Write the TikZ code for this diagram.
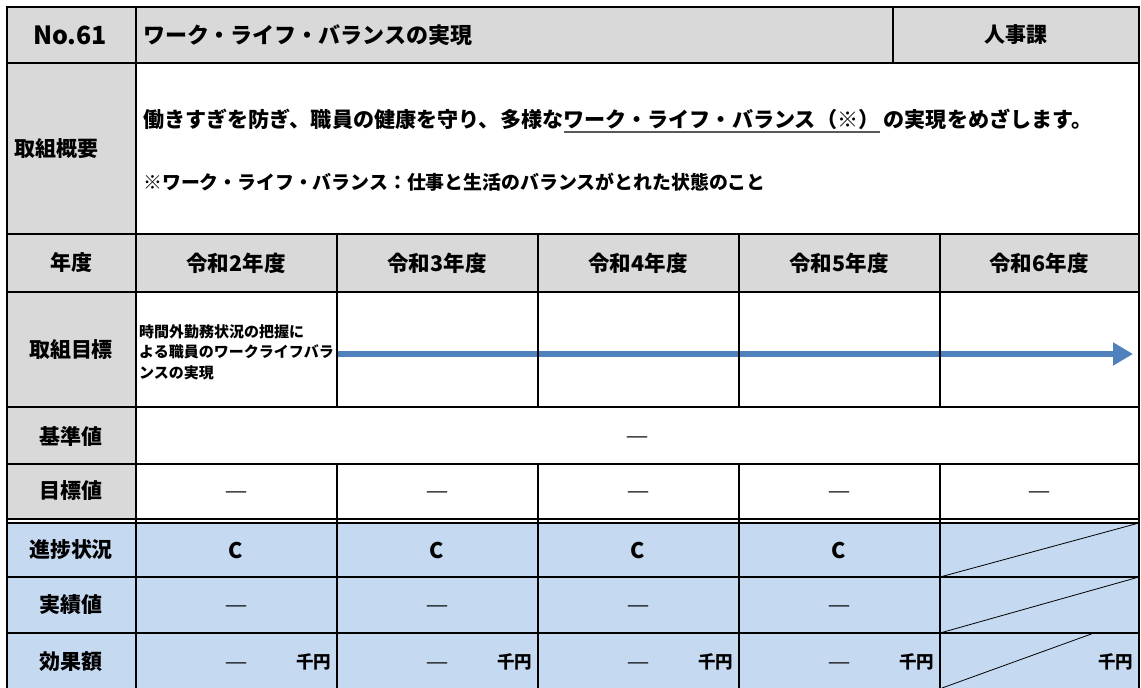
\documentclass[tikz,border=0pt]{standalone}
\usepackage{fontspec}
\setmainfont{Noto Sans CJK JP}
\usetikzlibrary{arrows.meta}
\definecolor{hdrgray}{HTML}{D9D9D9}
\definecolor{progblue}{HTML}{C5D9F1}
\definecolor{goalblue}{HTML}{4F81BD}
\definecolor{ulgray}{HTML}{595959}
\begin{document}
\begin{tikzpicture}[x=1pt,y=-1pt,
    rule/.style={line width=1.4pt},
    slash/.style={line width=0.8pt},
    lbl/.style={font=\bfseries\fontsize{21}{21}\selectfont},
    val/.style={font=\bfseries\fontsize{21.5}{21.5}\selectfont},
    bar/.style={font=\bfseries\fontsize{24}{24}\selectfont, yshift=-6pt},
    yen/.style={font=\bfseries\fontsize{17.5}{17.5}\selectfont, anchor=east},
    txt/.style={font=\bfseries\fontsize{21.1}{21.1}\selectfont, anchor=base west, inner sep=0pt},
    goal/.style={line width=6pt, goalblue, -{Triangle[width=22pt,length=20pt]}}]
    \clip (0,0) rectangle (1141,688);
    \fill[white] (0,0) rectangle (1141,688);
    \fill[hdrgray] (7,7) rectangle (1139,63);
    \fill[hdrgray] (7,63) rectangle (136,519);
    \fill[hdrgray] (136,234) rectangle (1139,292);
    \fill[progblue] (7,523) rectangle (1139,700);

    \node[font=\bfseries\fontsize{25}{25}\selectfont] (no) at (70,35) {No.61};
    \node[font=\bfseries\fontsize{22}{22}\selectfont, anchor=west, inner sep=0pt] (title) at (143,35) {ワーク・ライフ・バランスの実現};
    \node[lbl] (dept) at (1016,35) {人事課};

    \node[lbl, anchor=west, inner sep=0pt] (gaiyo) at (14,149) {取組概要};
    \node[txt] (intro) at (143,127) {働きすぎを防ぎ、職員の健康を守り、多様な};
    \node[txt] (wlb) at (intro.base east) {ワーク・ライフ・バランス（※）};
    \node[txt, xshift=4pt] (aim) at (wlb.base east) {の実現をめざします。};
    \node[font=\bfseries\fontsize{18.9}{18.9}\selectfont, anchor=base west, inner sep=0pt] (note) at (143,189) {※ワーク・ライフ・バランス：仕事と生活のバランスがとれた状態のこと};

    \node[lbl] (nendo) at (71,263) {年度};
    \node[val] (rtwo) at (236,263) {令和2年度};
    \node[val] (rthree) at (437,263) {令和3年度};
    \node[val] (rfour) at (638,263) {令和4年度};
    \node[val] (rfive) at (839,263) {令和5年度};
    \node[val] (rsix) at (1039,263) {令和6年度};

    \node[lbl] (torikumi) at (71,350) {取組目標};
    \node[font=\bfseries\fontsize{15}{20.5}\selectfont, align=left, anchor=west, inner sep=0pt] (plan) at (139,352) {時間外勤務状況の把握に\\よる職員のワークライフバラ\\ンスの実現};

    \node[lbl] (kijun) at (71,436) {基準値};
    \node[bar] (kijunbar) at (637,436) {―};

    \node[lbl] (mokuhyo) at (71,491) {目標値};
    \node[bar] (mtwo) at (236,491) {―};
    \node[bar] (mthree) at (437,491) {―};
    \node[bar] (mfour) at (638,491) {―};
    \node[bar] (mfive) at (839,491) {―};
    \node[bar] (msix) at (1039,491) {―};

    \node[lbl] (shinchoku) at (71,550) {進捗状況};
    \node[val] (stwo) at (236,550) {C};
    \node[val] (sthree) at (437,550) {C};
    \node[val] (sfour) at (638,550) {C};
    \node[val] (sfive) at (839,550) {C};

    \node[lbl] (jisseki) at (71,605) {実績値};
    \node[bar] (jtwo) at (236,605) {―};
    \node[bar] (jthree) at (437,605) {―};
    \node[bar] (jfour) at (638,605) {―};
    \node[bar] (jfive) at (839,605) {―};

    \node[lbl] (koka) at (71,662) {効果額};
    \node[bar] (ktwo) at (236,662) {―};
    \node[bar] (kthree) at (437,662) {―};
    \node[bar] (kfour) at (638,662) {―};
    \node[bar] (kfive) at (839,662) {―};
    \node[yen] (ytwo) at (335,662) {千円};
    \node[yen] (ythree) at (536,662) {千円};
    \node[yen] (yfour) at (737,662) {千円};
    \node[yen] (yfive) at (938,662) {千円};
    \node[yen] (ysix) at (1137,662) {千円};

    %%%%%%%%%%%%%%%%%%%%%%%%%%%%%%%%%%%%%%%%

    \draw[ulgray, line width=1.3pt] ([yshift=-5pt]wlb.base west) -- ([yshift=-5pt]wlb.base east);

    \coordinate (goalstart) at (338,354);
    \coordinate (goalend) at (1133,354);
    \draw[goal] (goalstart) -- (goalend);

    \draw[rule] (7,700) -- (7,7) -- (1139,7) -- (1139,700);
    \draw[rule] (7,63) -- (1139,63);
    \draw[rule] (7,234) -- (1139,234);
    \draw[rule] (7,292) -- (1139,292);
    \draw[rule] (7,407) -- (1139,407);
    \draw[rule] (7,464) -- (1139,464);
    \draw[rule] (7,519) -- (1139,519);
    \draw[rule] (7,523) -- (1139,523);
    \draw[rule] (7,577) -- (1139,577);
    \draw[rule] (7,633) -- (1139,633);
    \draw[rule] (136,7) -- (136,700);
    \draw[rule] (893,7) -- (893,63);
    \draw[rule] (337,234) -- (337,407);
    \draw[rule] (538,234) -- (538,407);
    \draw[rule] (739,234) -- (739,407);
    \draw[rule] (940,234) -- (940,407);
    \draw[rule] (337,464) -- (337,700);
    \draw[rule] (538,464) -- (538,700);
    \draw[rule] (739,464) -- (739,700);
    \draw[rule] (940,464) -- (940,700);

    \draw[slash] (940,577) -- (1139,523);
    \draw[slash] (940,633) -- (1139,577);
    \draw[slash] (942,688) -- (1094,633);
\end{tikzpicture}
\end{document}
